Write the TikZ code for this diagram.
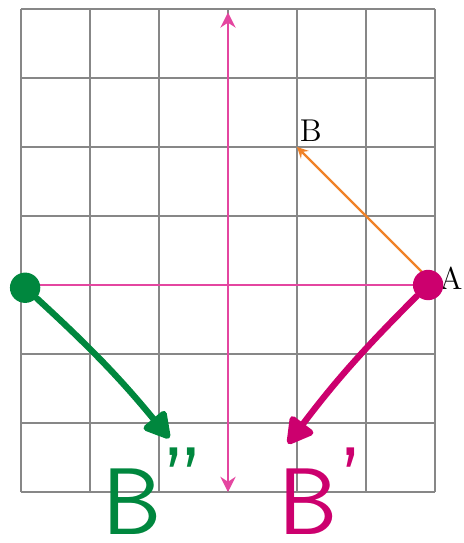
\documentclass[tikz,border=0pt]{standalone}
\usepackage{tikz}
\usetikzlibrary{arrows,arrows.meta,positioning}
\definecolor{gridgray}{RGB}{135,135,135}
\definecolor{axispink}{RGB}{228,70,160}
\definecolor{vecorange}{RGB}{240,130,40}
\definecolor{inkgreen}{RGB}{0,135,62}
\definecolor{inkmagenta}{RGB}{204,0,110}
\tikzstyle{gridline} = [gridgray,line width=.8pt]
\tikzstyle{axis} = [axispink,line width=1.1pt]
\tikzstyle{vec} = [->,>=stealth,vecorange,line width=1pt]
\tikzstyle{ink} = [line width=2.6pt,line cap=round,line join=round,-{Triangle[length=.42cm,width=.45cm,round]}]
\tikzstyle{blob} = [circle,inner sep=0pt,minimum size=.44cm]
\tikzstyle{inklabel} = [anchor=base west,inner sep=0pt,font=\sffamily\fontsize{39}{39}\selectfont]

\begin{document}
\begin{tikzpicture}
      \useasboundingbox(-3.304,-3.739)rectangle(3.42,4.13);
      \draw[gridline](-3,-3)grid(3,4);
      \coordinate(left)at(-3,0);\coordinate(right)at(3,0);
      \coordinate(bottom)at(0,-3);\coordinate(top)at(0,3.95);
      \draw[axis](left)--(right);
      \draw[axis,{Stealth[length=.22cm,width=.22cm]}-{Stealth[length=.22cm,width=.22cm]}](bottom)--(top);
      \coordinate(A)at(3,0);\coordinate(B)at(1,2);
      \draw[vec](A)--(B);
      \node[inner sep=0pt,font=\fontsize{13}{13}\selectfont](lblB)at(1.2,2.23){B};
      \node[inner sep=0pt,font=\fontsize{13}{13}\selectfont](lblA)at(3.23,.1){A};
      \node[blob,fill=inkgreen](gdot)at(-2.94,-.04){};
      \node[blob,fill=inkmagenta](mdot)at(2.9,0){};
      \coordinate(gtip)at(-.85,-2.22);\coordinate(mtip)at(.87,-2.3);
      \draw[ink,inkgreen](gdot)to[bend left=4](gtip);
      \draw[ink,inkmagenta](mdot)to[bend right=4](mtip);
      \node[inklabel,text=inkgreen](lblBpp)at(-1.83,-3.62){B\raisebox{.22em}{''}};
      \node[inklabel,text=inkmagenta](lblBp)at(.73,-3.62){B\raisebox{.22em}{'}};
    \end{tikzpicture}
\end{document}
